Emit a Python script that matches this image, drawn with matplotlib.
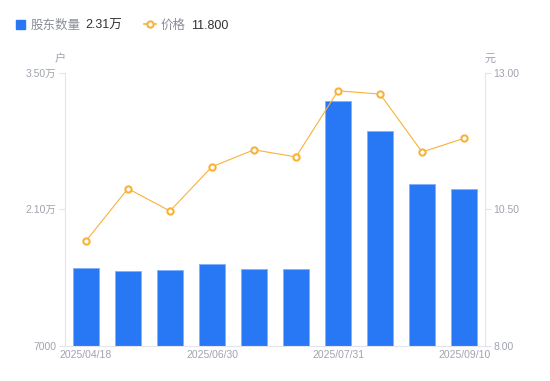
import matplotlib.pyplot as plt
import numpy as np

plt.rcParams['font.family'] = ['Liberation Sans', 'Noto Sans CJK SC', 'DejaVu Sans']

dates = ["2025/04/18", "2025/05/09", "2025/05/30", "2025/06/30", "2025/07/10",
         "2025/07/20", "2025/07/31", "2025/08/15", "2025/08/29", "2025/09/10"]
holders = [14970, 14660, 14770, 15380, 14870, 14870, 32140, 29080, 23560, 23100]
price = [9.92, 10.88, 10.47, 11.28, 11.59, 11.46, 12.67, 12.61, 11.55, 11.80]

blue = "#2878f5"
orange = "#f7b23b"
gray = "#a0a3b0"
axcol = "#e3e5ea"

fig = plt.figure(figsize=(5.5, 3.81), dpi=100)
ax = fig.add_axes([0.118, 0.092, 0.764, 0.717])
x = np.arange(len(dates))
ax.bar(x, holders, width=0.6, color=blue, edgecolor="#7fb0ff", linewidth=0.6, zorder=2)
ax.set_xlim(-0.5, len(dates) - 0.5)
ax.set_ylim(7000, 35000)
ax.set_yticks([7000, 21000, 35000])
ax.set_yticklabels(["7000", "2.10万", "3.50万"])
ax.set_xticks(x[::3])
ax.set_xticklabels(dates[::3])

ax2 = ax.twinx()
ax2.plot(x, price, color=orange, linewidth=0.8, marker="o", markersize=4.5,
         markerfacecolor="white", markeredgecolor=orange, markeredgewidth=1.5, zorder=3)
ax2.set_ylim(8, 13)
ax2.set_yticks([8, 10.5, 13])
ax2.set_yticklabels(["8.00", "10.50", "13.00"])

for a in (ax, ax2):
    for s in a.spines.values():
        s.set_visible(False)
    a.tick_params(colors=axcol, labelcolor=gray, labelsize=7.5, length=4, width=0.8)
ax.spines['left'].set_visible(True)
ax.spines['left'].set_color(axcol)
ax.spines['bottom'].set_visible(True)
ax.spines['bottom'].set_color(axcol)
ax2.spines['right'].set_visible(True)
ax2.spines['right'].set_color(axcol)
ax.tick_params(axis='x', length=0, pad=3)
ax.tick_params(axis='y', pad=2)
ax2.tick_params(axis='y', pad=2)

fig.text(60 / 550, 1 - 59 / 381, "户", color=gray, fontsize=8, ha='center', va='center')
fig.text(490 / 550, 1 - 59 / 381, "元", color=gray, fontsize=8, ha='center', va='center')

# legend
ly = 1 - 26 / 381
fig.patches.append(plt.Rectangle((16 / 550, 1 - 29 / 381), 9 / 550, 9 / 381,
                                 transform=fig.transFigure, color=blue))
fig.text(31 / 550, ly, "股东数量", color="#8a8d99", fontsize=9, va='center')
fig.text(85 / 550, ly, "2.31万", color="#333333", fontsize=9, va='center')
fig.lines.append(plt.Line2D([144 / 550, 156 / 550], [1 - 24 / 381, 1 - 24 / 381],
                            transform=fig.transFigure, color=orange, linewidth=1.2))
fig.lines.append(plt.Line2D([150 / 550], [1 - 24 / 381], transform=fig.transFigure,
                            marker="o", markersize=4.5, markerfacecolor="white",
                            markeredgecolor=orange, markeredgewidth=1.5, linestyle='none'))
fig.text(161 / 550, ly, "价格", color="#8a8d99", fontsize=9, va='center')
fig.text(191 / 550, ly, "11.800", color="#333333", fontsize=9, va='center')

fig.savefig("out.png", dpi=100)
